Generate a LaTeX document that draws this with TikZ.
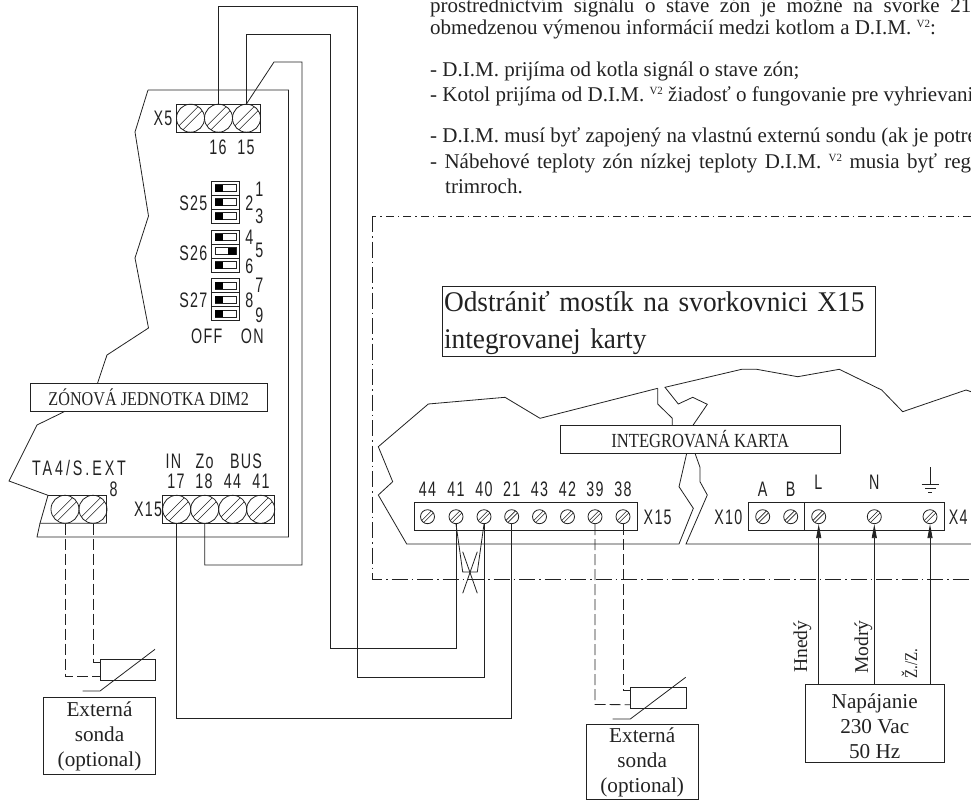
\documentclass[tikz,border=0pt]{standalone}
\usepackage{fontspec}
\usetikzlibrary{arrows.meta}
\setmainfont{Liberation Serif}
\newfontfamily\cadfont[FakeStretch=0.68,LetterSpace=6]{Liberation Sans}
\newfontfamily\cadwide[FakeStretch=0.68,LetterSpace=14]{Liberation Sans}
\newfontfamily\capfont[FakeStretch=0.83]{Liberation Serif}
\newfontfamily\bigfont[FakeStretch=0.96]{Liberation Serif}
\newcommand{\vtwo}{\raisebox{7pt}{\fontsize{11}{11}\selectfont V2}}
\definecolor{ink}{HTML}{222222}
\tikzset{
  wire/.style={draw=ink,line width=0.8pt},
  dashwire/.style={wire,dash pattern=on 11pt off 4pt},
  body/.style={inner sep=0pt,anchor=base west,text=ink,font=\fontsize{21}{24}\selectfont},
  note/.style={draw=ink,line width=0.8pt,inner sep=0pt,align=center,text=ink,font=\fontsize{21.2}{25}\selectfont},
  cad/.style={inner sep=0pt,text=ink,font=\cadfont\fontsize{21}{21}\selectfont},
  strip/.style={draw=ink,line width=0.8pt,inner sep=0pt},
  screw/.style={circle,draw=ink,line width=0.8pt,inner sep=0pt,minimum size=28pt,path picture={
    \draw[ink,line width=0.6pt] ([shift={(-20pt,-16pt)}]path picture bounding box.center) -- ([shift={(20pt,24pt)}]path picture bounding box.center);
    \draw[ink,line width=0.6pt] ([shift={(-20pt,-24pt)}]path picture bounding box.center) -- ([shift={(20pt,16pt)}]path picture bounding box.center);}},
  smallscrew/.style={circle,draw=ink,line width=0.8pt,inner sep=0pt,minimum size=14pt,path picture={
    \draw[ink,line width=0.6pt] ([shift={(-10pt,-8pt)}]path picture bounding box.center) -- ([shift={(10pt,12pt)}]path picture bounding box.center);
    \draw[ink,line width=0.6pt] ([shift={(-10pt,-12pt)}]path picture bounding box.center) -- ([shift={(10pt,8pt)}]path picture bounding box.center);}},
  dipoff/.style={draw=ink,line width=0.8pt,inner sep=0pt,minimum width=28.4pt,minimum height=14pt,path picture={
    \draw[ink,line width=0.6pt] ([shift={(-10.4pt,-3.5pt)}]path picture bounding box.center) rectangle ([shift={(10.4pt,3.5pt)}]path picture bounding box.center);
    \fill[black] ([shift={(-10.4pt,-3.5pt)}]path picture bounding box.center) rectangle ([shift={(-2.2pt,3.5pt)}]path picture bounding box.center);}},
  dipon/.style={draw=ink,line width=0.8pt,inner sep=0pt,minimum width=28.4pt,minimum height=14pt,path picture={
    \draw[ink,line width=0.6pt] ([shift={(-10.4pt,-3.5pt)}]path picture bounding box.center) rectangle ([shift={(10.4pt,3.5pt)}]path picture bounding box.center);
    \fill[black] ([shift={(2.2pt,-3.5pt)}]path picture bounding box.center) rectangle ([shift={(10.4pt,3.5pt)}]path picture bounding box.center);}},
  sensor/.style={draw=ink,line width=0.8pt,inner sep=0pt,minimum width=55.5pt,minimum height=20.7pt},
  power/.style={wire,-{Triangle[length=14pt,width=5pt]}},
  upright/.style={inner sep=0pt,rotate=90,anchor=base west,text=ink,font=\fontsize{19.6}{24}\selectfont}
}
\begin{document}
\begin{tikzpicture}[x=1pt,y=-1pt]
  \useasboundingbox (0,0) rectangle (971,800);
  \clip (0,0) rectangle (971,800);

  \node[body] (line1) at (430,12.5) {\makebox[541pt][s]{prostredníctvím signálu o stave zón je možné na svorke 21}};
  \node[body] (line2) at (430,35) {obmedzenou výmenou informácií medzi kotlom a D.I.M. \vtwo:};
  \node[body] (line3) at (430,76.7) {- D.I.M. prijíma od kotla signál o stave zón;};
  \node[body] (line4) at (430,101.7) {- Kotol prijíma od D.I.M. \vtwo{} žiadosť o fungovanie pre vyhrievani};
  \node[body] (line5) at (430,142.7) {- D.I.M. musí byť zapojený na vlastnú externú sondu (ak je potre};
  \node[body] (line6) at (430,168) {\makebox[541pt][s]{- Nábehové teploty zón nízkej teploty D.I.M. \vtwo{} musia byť reg}};
  \node[body] (line7) at (445,193) {trimroch.};

  \draw[ink,line width=0.8pt,dash pattern=on 8pt off 4pt on 1.5pt off 4pt] (971,216) -- (372,216);
  \draw[ink,line width=0.8pt,dash pattern=on 16pt off 4pt on 1.5pt off 4pt] (372,216) -- (372,579) -- (971,579);

  \node[draw=ink,line width=0.8pt,inner sep=0pt,minimum width=433pt,minimum height=70pt,text width=429pt,align=left,text=ink,font=\bigfont\fontsize{28.5}{36.7}\selectfont] (removenote) at (658.5,321) {\rule{0pt}{24pt}Odstrániť mostík na svorkovnici X15\\integrovanej karty};

  \draw[wire] (148,90) -- (288.5,90) -- (288.5,537) -- (37,537) -- (40,523.3);
  \draw[wire] (148,90) -- (135,132) -- (148.5,216) -- (135,258) -- (148.5,328) -- (107,355) -- (97.5,383.3);
  \draw[wire] (65,411.3) -- (37,425) -- (9,481) -- (48,495.3) -- (40,523.3) -- (106.7,523.3);
  \node[note,font=\capfont\fontsize{19.5}{20}\selectfont,minimum width=237.3pt,minimum height=28pt] (zoneunit) at (148.7,397.3) {ZÓNOVÁ JEDNOTKA DIM2};

  \node[strip,minimum width=84pt,minimum height=27.5pt] (x5) at (218.5,118.2) {};
  \node[screw] (x5a) at (190.5,118.2) {};
  \node[screw] (x5b) at (218.5,118.2) {};
  \node[screw] (x5c) at (246.5,118.2) {};
  \node[cad] (x5label) at (163,118.5) {X5};
  \node[cad] (n16) at (218,147) {16};
  \node[cad] (n15) at (246,147) {15};

  \node[dipoff] (d1) at (225.5,188) {};
  \node[dipoff] (d2) at (225.5,202) {};
  \node[dipoff] (d3) at (225.5,216.2) {};
  \node[dipoff] (d4) at (225.5,237) {};
  \node[dipon] (d5) at (225.5,251) {};
  \node[dipoff] (d6) at (225.5,265) {};
  \node[dipoff] (d7) at (225.5,285.7) {};
  \node[dipoff] (d8) at (225.5,299.7) {};
  \node[dipoff] (d9) at (225.5,313.7) {};
  \node[cad] (s25) at (193.3,203.3) {S25};
  \node[cad] (s26) at (193.3,253) {S26};
  \node[cad] (s27) at (193.3,300) {S27};
  \node[cad] (k1) at (259.3,189.3) {1};
  \node[cad] (k2) at (249.3,202.7) {2};
  \node[cad] (k3) at (259.3,216.7) {3};
  \node[cad] (k4) at (249.3,237.3) {4};
  \node[cad] (k5) at (259.3,250.7) {5};
  \node[cad] (k6) at (249.3,266.7) {6};
  \node[cad] (k7) at (259.3,285) {7};
  \node[cad] (k8) at (249.3,300) {8};
  \node[cad] (k9) at (259.3,315) {9};
  \node[cad] (off) at (206.7,336.7) {OFF};
  \node[cad] (on) at (252.3,336.7) {ON};

  \draw[wire] (48,495.3) -- (106.7,495.3) -- (106.7,523.3);
  \node[screw] (ta1) at (65,509.3) {};
  \node[screw] (ta2) at (93,509.3) {};
  \node[cad,font=\cadwide\fontsize{21}{21}\selectfont] (talabel) at (79,468) {TA4/S.EXT};
  \node[cad] (n8) at (113.7,489) {8};

  \node[strip,minimum width=112pt,minimum height=28pt] (x15a) at (218.7,509.3) {};
  \node[screw] (t17) at (176.7,509.3) {};
  \node[screw] (t18) at (204.7,509.3) {};
  \node[screw] (t44) at (232.7,509.3) {};
  \node[screw] (t41) at (260.7,509.3) {};
  \node[cad] (x15alabel) at (148,509.5) {X15};
  \node[cad] (in) at (173.5,461) {IN};
  \node[cad] (zo) at (204.5,461) {Zo};
  \node[cad] (bus) at (246,461) {BUS};
  \node[cad] (n17) at (176,481) {17};
  \node[cad] (n18) at (204,481) {18};
  \node[cad] (n44) at (232.5,481) {44};
  \node[cad] (n41) at (261,481) {41};

  \draw[wire] (657.7,388.3) -- (657.7,404) -- (672.3,418.3) -- (672.3,425.7);
  \draw[wire] (657.7,388.3) -- (540,418.3) -- (505,397.3) -- (428.3,404) -- (378.3,446.7) -- (392.7,481.7) -- (378.3,495) -- (406.7,544) -- (679,544) -- (693.3,508.3) -- (679,486.7) -- (686.7,453.3);
  \draw[wire] (692.7,425.7) -- (707.3,404.3) -- (692.7,397.3) -- (678.3,404) -- (665,387.3) -- (741.7,369.3) -- (756.7,369.3) -- (797.7,376.7) -- (839.3,369.3) -- (881.7,390) -- (902.7,411.7) -- (966,390) -- (975,393);
  \draw[wire] (695,453.3) -- (700,467.3) -- (700,481.7) -- (707.3,495) -- (686,544) -- (971,544);
  \node[note,font=\capfont\fontsize{20}{20}\selectfont,minimum width=279.7pt,minimum height=27.6pt] (maincard) at (700.2,439.5) {INTEGROVANÁ KARTA};

  \node[strip,minimum width=223.3pt,minimum height=28pt] (x15b) at (525.7,516.7) {};
  \node[smallscrew] (b44) at (427.5,516.7) {};
  \node[smallscrew] (b41) at (456,516.7) {};
  \node[smallscrew] (b40) at (484,516.7) {};
  \node[smallscrew] (b21) at (511.7,516.7) {};
  \node[smallscrew] (b43) at (539.5,516.7) {};
  \node[smallscrew] (b42) at (567.5,516.7) {};
  \node[smallscrew] (b39) at (595,516.7) {};
  \node[smallscrew] (b38) at (623,516.7) {};
  \node[cad] (m44) at (427.5,489.3) {44};
  \node[cad] (m41) at (456,489.3) {41};
  \node[cad] (m40) at (484,489.3) {40};
  \node[cad] (m21) at (511.7,489.3) {21};
  \node[cad] (m43) at (539.5,489.3) {43};
  \node[cad] (m42) at (567.5,489.3) {42};
  \node[cad] (m39) at (595,489.3) {39};
  \node[cad] (m38) at (623,489.3) {38};
  \node[cad] (x15blabel) at (657.7,517) {X15};

  \node[strip,minimum width=56pt,minimum height=28pt] (x10) at (776.7,516.7) {};
  \node[strip,minimum width=139.6pt,minimum height=28pt] (x4) at (874.5,516.7) {};
  \node[smallscrew] (sa) at (762.7,516.7) {};
  \node[smallscrew] (sb) at (790.7,516.7) {};
  \node[smallscrew] (sl) at (818.7,516.7) {};
  \node[smallscrew] (sn) at (874.3,516.7) {};
  \node[smallscrew] (se) at (930,516.7) {};
  \node[cad] (x10label) at (728.3,517) {X10};
  \node[cad] (x4label) at (958.3,517) {X4};
  \node[cad] (la) at (762.7,489.3) {A};
  \node[cad] (lb) at (790.7,489.3) {B};
  \node[cad] (ll) at (818.3,482.3) {L};
  \node[cad] (ln) at (874.3,482.3) {N};
  \draw[wire] (930.3,467.3) -- (930.3,484);
  \draw[wire] (921.7,484) -- (939.3,484);
  \draw[wire] (925,488.3) -- (936,488.3);
  \draw[wire] (928.3,492.7) -- (932.3,492.7);

  \draw[wire] (x5b.north) -- (218.5,6.7) -- (357.7,6.7) -- (357.7,677) -- (484,677) -- (b40.south);
  \draw[wire] (x5c.north) -- (274,62) -- (302,62) -- (302,565) -- (204.7,565) -- (t18.south);
  \draw[wire] (246.5,104) -- (246.5,34.3) -- (330,34.3) -- (330,648.3) -- (456,648.3) -- (b41.south);
  \draw[wire] (t17.south) -- (176.7,718.3) -- (511.7,718.3) -- (b21.south);

  \draw[wire] (b41.south) -- (462.7,572) -- (477.3,572) -- (b40.south);
  \draw[wire] (462.7,551.7) -- (477.3,593.3);
  \draw[wire] (477.3,551.7) -- (462.7,593.3);

  \node[sensor] (rta) at (127.7,669.7) {};
  \draw[dashwire] (ta1.south) -- (65,676.7) -- ([yshift=-7pt]rta.west);
  \draw[dashwire] (ta2.south) -- (93,662.7) -- ([yshift=7pt]rta.west);
  \draw[wire] (82.7,691) -- (100,691) -- (155,649.3);
  \node[note,minimum width=111.6pt,minimum height=77.4pt] (probea) at (99.5,736) {Externá\\sonda\\(optional)};

  \node[sensor] (rtb) at (658.2,697.7) {};
  \draw[dashwire] (b39.south) -- (595,704.5) -- ([yshift=-7pt]rtb.west);
  \draw[dashwire] (b38.south) -- (623,690.7) -- ([yshift=7pt]rtb.west);
  \draw[wire] (612.7,719) -- (630.3,719) -- (685.7,677.3);
  \node[note,minimum width=112.3pt,minimum height=75pt] (probeb) at (642.2,762) {Externá\\sonda\\(optional)};

  \node[note,minimum width=139.3pt,minimum height=77.3pt] (supply) at (874.7,723.3) {\rule{0pt}{21pt}Napájanie\\230 Vac\\50 Hz};
  \draw[power] (supply.north -| sl) -- (sl.south);
  \draw[power] (supply.north -| sn) -- (sn.south);
  \draw[power] (supply.north -| se) -- (se.south);
  \node[upright] (brown) at (807,673) {Hnedý};
  \node[upright] (blue) at (868,674) {Modrý};
  \node[upright,font=\capfont\fontsize{18}{20}\selectfont] (green) at (917,679) {Ž./Z.};
\end{tikzpicture}
\end{document}
